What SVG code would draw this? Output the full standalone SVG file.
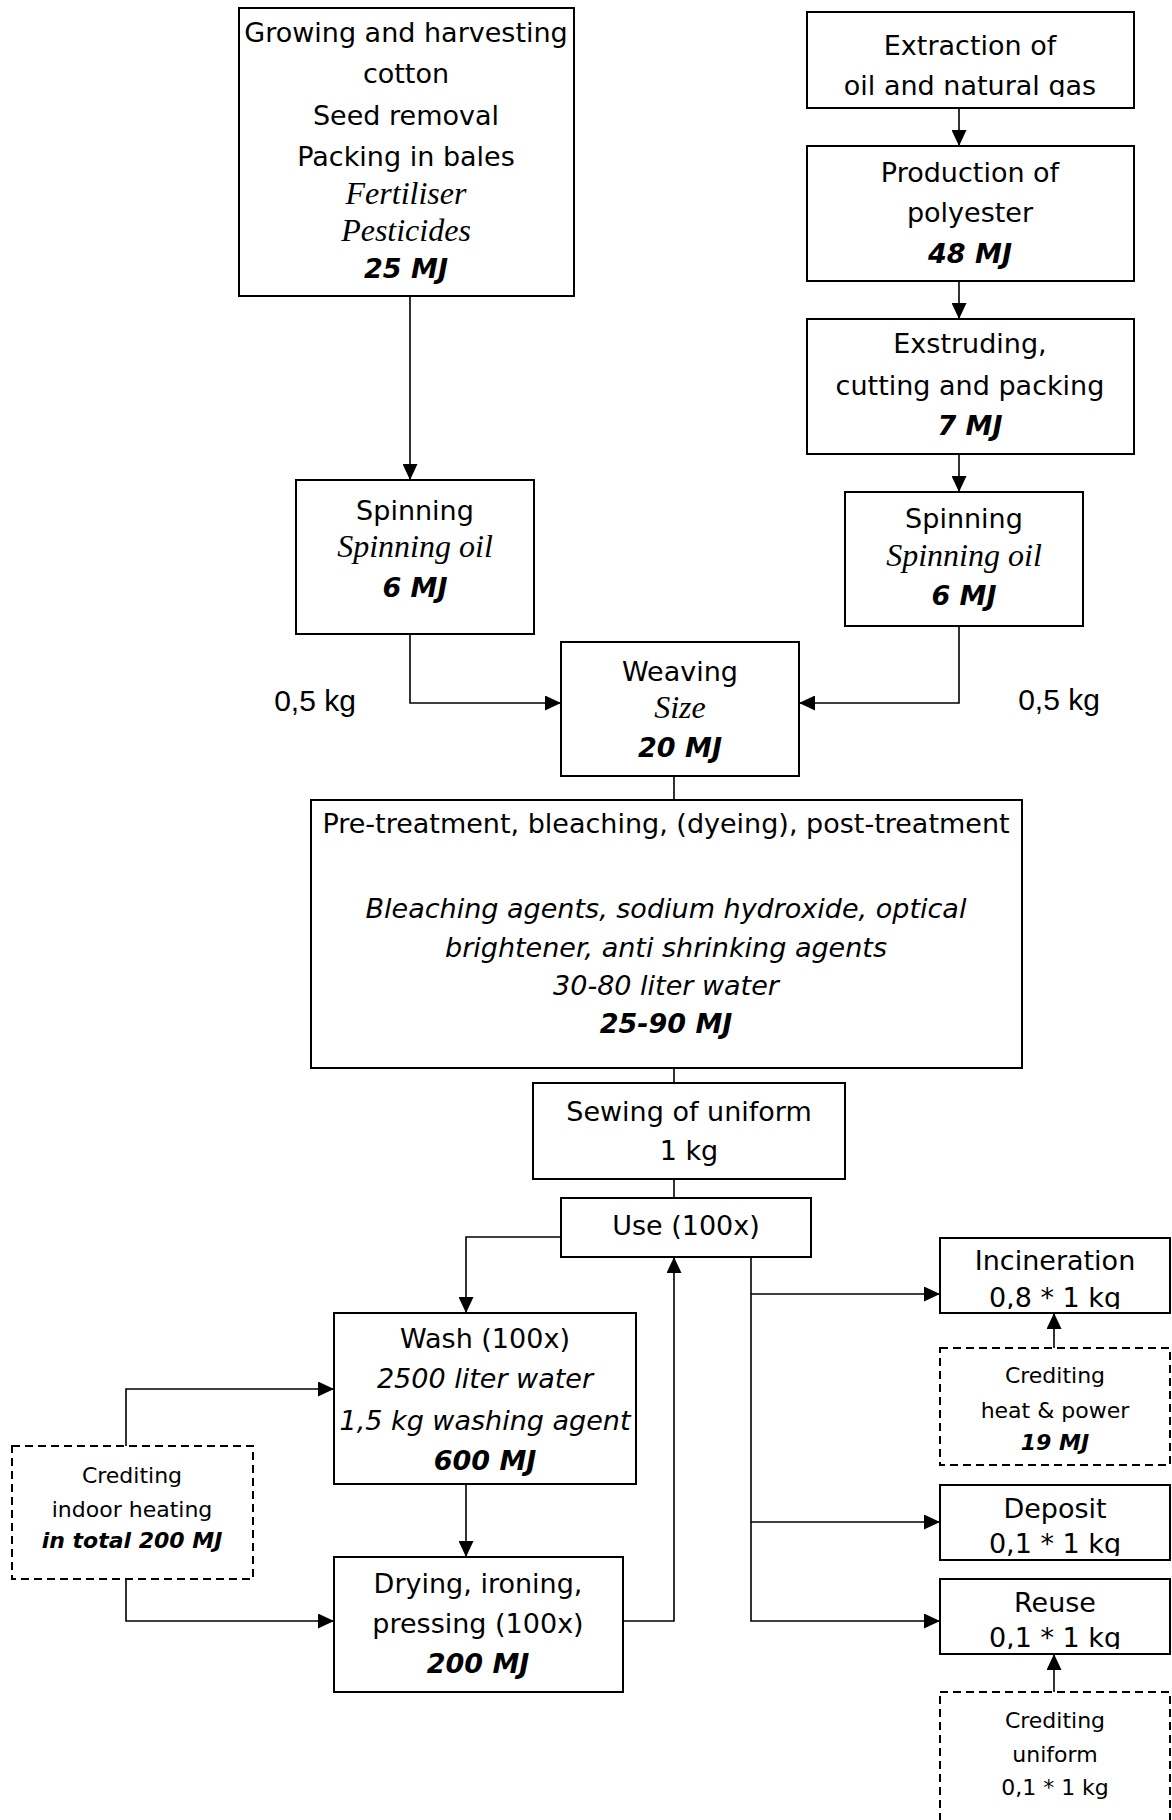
<svg xmlns="http://www.w3.org/2000/svg" width="1172" height="1820" viewBox="0 0 1172 1820">
<style>
.box{fill:#fff;stroke:#000;stroke-width:2}
.dash{fill:#fff;stroke:#000;stroke-width:2;stroke-dasharray:8 5}
.con{fill:none;stroke:#000;stroke-width:1.6}
text{font-family:"DejaVu Sans","Noto Sans",sans-serif;font-size:27px;fill:#000;text-anchor:middle}
.it{font-style:italic}
.mj{font-weight:bold;font-style:italic}
.ser{font-family:"Liberation Serif","Times New Roman",serif;font-style:italic;font-size:32px}
.cr{font-size:22px}
.kg{font-family:"Liberation Sans",Arial,sans-serif;font-size:30px}
</style>
<defs>
<marker id="arr" markerUnits="userSpaceOnUse" markerWidth="16" markerHeight="15" refX="16" refY="7.5" orient="auto">
<path d="M0,0 L16,7.5 L0,15 z" fill="#000"/>
</marker>
<clipPath id="clipGas" clipPathUnits="userSpaceOnUse"><rect x="807" y="12" width="327" height="85"/></clipPath>
<clipPath id="clipInc" clipPathUnits="userSpaceOnUse"><rect x="940" y="1238" width="230" height="71"/></clipPath>
<clipPath id="clipDep" clipPathUnits="userSpaceOnUse"><rect x="940" y="1485" width="230" height="71"/></clipPath>
<clipPath id="clipReu" clipPathUnits="userSpaceOnUse"><rect x="940" y="1579" width="230" height="70"/></clipPath>
</defs>

<g id="connectors">
<path class="con" d="M410,296 V480" marker-end="url(#arr)"/>
<path class="con" d="M959,108 V146" marker-end="url(#arr)"/>
<path class="con" d="M959,281 V319" marker-end="url(#arr)"/>
<path class="con" d="M959,454 V492" marker-end="url(#arr)"/>
<path class="con" d="M410,634 V703 H561" marker-end="url(#arr)"/>
<path class="con" d="M959,626 V703 H799" marker-end="url(#arr)"/>
<path class="con" d="M674,776 V800"/>
<path class="con" d="M674,1068 V1083"/>
<path class="con" d="M674,1179 V1198"/>
<path class="con" d="M561,1237 H466 V1313" marker-end="url(#arr)"/>
<path class="con" d="M466,1484 V1557" marker-end="url(#arr)"/>
<path class="con" d="M623,1621 H674 V1257" marker-end="url(#arr)"/>
<path class="con" d="M126,1446 V1389 H334" marker-end="url(#arr)"/>
<path class="con" d="M126,1579 V1621 H334" marker-end="url(#arr)"/>
<path class="con" d="M751,1257 V1621 H940" marker-end="url(#arr)"/>
<path class="con" d="M751,1294 H940" marker-end="url(#arr)"/>
<path class="con" d="M751,1522 H940" marker-end="url(#arr)"/>
<path class="con" d="M1054,1348 V1313" marker-end="url(#arr)"/>
<path class="con" d="M1054,1692 V1654" marker-end="url(#arr)"/>
</g>

<g id="cotton">
<rect class="box" x="239" y="8" width="335" height="288"/>
<text x="406" y="42">Growing and harvesting</text>
<text x="406" y="83">cotton</text>
<text x="406" y="125">Seed removal</text>
<text x="406" y="166">Packing in bales</text>
<text class="ser" x="406" y="204">Fertiliser</text>
<text class="ser" x="406" y="241">Pesticides</text>
<text class="mj" x="406" y="278">25 MJ</text>
</g>

<g id="extraction">
<rect class="box" x="807" y="12" width="327" height="96"/>
<text x="970" y="55">Extraction of</text>
<text x="970" y="95" clip-path="url(#clipGas)">oil and natural gas</text>
</g>

<g id="polyester">
<rect class="box" x="807" y="146" width="327" height="135"/>
<text x="970" y="182">Production of</text>
<text x="970" y="222">polyester</text>
<text class="mj" x="970" y="263">48 MJ</text>
</g>

<g id="extruding">
<rect class="box" x="807" y="319" width="327" height="135"/>
<text x="970" y="353">Exstruding,</text>
<text x="970" y="395">cutting and packing</text>
<text class="mj" x="970" y="435">7 MJ</text>
</g>

<g id="spinning-cotton">
<rect class="box" x="296" y="480" width="238" height="154"/>
<text x="415" y="520">Spinning</text>
<text class="ser" x="415" y="557">Spinning oil</text>
<text class="mj" x="415" y="597">6 MJ</text>
</g>

<g id="spinning-polyester">
<rect class="box" x="845" y="492" width="238" height="134"/>
<text x="964" y="528">Spinning</text>
<text class="ser" x="964" y="566">Spinning oil</text>
<text class="mj" x="964" y="605">6 MJ</text>
</g>

<g id="label-left">
<text class="kg" x="315" y="711">0,5 kg</text>
</g>
<g id="label-right">
<text class="kg" x="1059" y="710">0,5 kg</text>
</g>

<g id="weaving">
<rect class="box" x="561" y="642" width="238" height="134"/>
<text x="680" y="681">Weaving</text>
<text class="ser" x="680" y="718">Size</text>
<text class="mj" x="680" y="757">20 MJ</text>
</g>

<g id="pretreatment">
<rect class="box" x="311" y="800" width="711" height="268"/>
<text x="666" y="833">Pre-treatment, bleaching, (dyeing), post-treatment</text>
<text class="it" x="666" y="918">Bleaching agents, sodium hydroxide, optical</text>
<text class="it" x="666" y="957">brightener, anti shrinking agents</text>
<text class="it" x="666" y="995">30-80 liter water</text>
<text class="mj" x="666" y="1033">25-90 MJ</text>
</g>

<g id="sewing">
<rect class="box" x="533" y="1083" width="312" height="96"/>
<text x="689" y="1121">Sewing of uniform</text>
<text x="689" y="1160">1 kg</text>
</g>

<g id="use">
<rect class="box" x="561" y="1198" width="250" height="59"/>
<text x="686" y="1235">Use (100x)</text>
</g>

<g id="wash">
<rect class="box" x="334" y="1313" width="302" height="171"/>
<text x="485" y="1348">Wash (100x)</text>
<text class="it" x="485" y="1388">2500 liter water</text>
<text class="it" x="485" y="1430">1,5 kg washing agent</text>
<text class="mj" x="485" y="1470">600 MJ</text>
</g>

<g id="drying">
<rect class="box" x="334" y="1557" width="289" height="135"/>
<text x="478" y="1593">Drying, ironing,</text>
<text x="478" y="1633">pressing (100x)</text>
<text class="mj" x="478" y="1673">200 MJ</text>
</g>

<g id="credit-heating">
<rect class="dash" x="12" y="1446" width="241" height="133"/>
<text class="cr" x="132" y="1483">Crediting</text>
<text class="cr" x="132" y="1517">indoor heating</text>
<text class="cr mj" x="132" y="1548">in total 200 MJ</text>
</g>

<g id="incineration">
<rect class="box" x="940" y="1238" width="230" height="75"/>
<text x="1055" y="1270">Incineration</text>
<text x="1055" y="1307" clip-path="url(#clipInc)">0,8 * 1 kg</text>
</g>

<g id="credit-heat-power">
<rect class="dash" x="940" y="1348" width="230" height="117"/>
<text class="cr" x="1055" y="1383">Crediting</text>
<text class="cr" x="1055" y="1418">heat &amp; power</text>
<text class="cr mj" x="1055" y="1450">19 MJ</text>
</g>

<g id="deposit">
<rect class="box" x="940" y="1485" width="230" height="75"/>
<text x="1055" y="1518">Deposit</text>
<text x="1055" y="1553" clip-path="url(#clipDep)">0,1 * 1 kg</text>
</g>

<g id="reuse">
<rect class="box" x="940" y="1579" width="230" height="75"/>
<text x="1055" y="1612">Reuse</text>
<text x="1055" y="1647" clip-path="url(#clipReu)">0,1 * 1 kg</text>
</g>

<g id="credit-uniform">
<rect class="dash" x="940" y="1692" width="230" height="140"/>
<text class="cr" x="1055" y="1728">Crediting</text>
<text class="cr" x="1055" y="1762">uniform</text>
<text class="cr" x="1055" y="1795">0,1 * 1 kg</text>
</g>
</svg>
